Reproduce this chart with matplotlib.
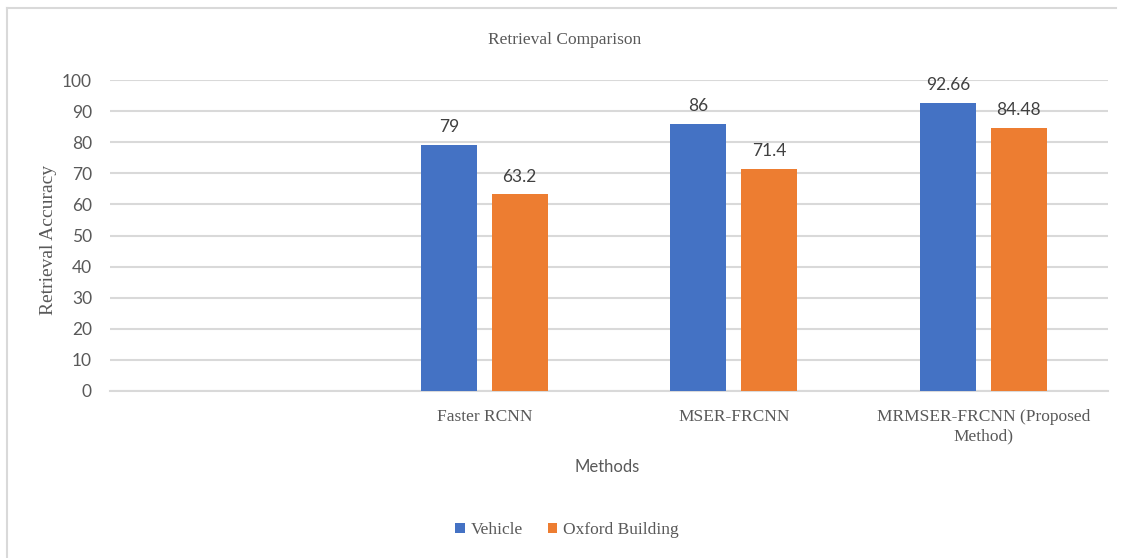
import numpy as np
import matplotlib.pyplot as plt
from matplotlib.lines import Line2D

categories = ["", "Faster RCNN", "MSER-FRCNN", "MRMSER-FRCNN (Proposed\nMethod)"]
series_names = ["Vehicle", "Oxford Building"]
vehicle = [None, 79, 86, 92.66]
oxford = [None, 63.2, 71.4, 84.48]
y_ticks = [0, 10, 20, 30, 40, 50, 60, 70, 80, 90, 100]

colors = ["#4472C4", "#ED7D31"]
text_col = "#595959"
serif = "Liberation Serif"
sans = "Lato"

fig = plt.figure(figsize=(11.23, 5.58), dpi=100)
ax = fig.add_axes([0.098, 0.2993, 0.8886, 0.5573])

x = np.arange(len(categories))
width = 0.224
offset = 0.142
for vals, off, c, name in [(vehicle, -offset, colors[0], series_names[0]),
                           (oxford, offset, colors[1], series_names[1])]:
    xs = [xi + off for xi, v in zip(x, vals) if v is not None]
    vs = [v for v in vals if v is not None]
    bars = ax.bar(xs, vs, width, color=c, label=name, zorder=3)
    for b, v in zip(bars, vs):
        ax.text(b.get_x() + b.get_width() / 2, v + 3.2, f"{v:g}",
                ha="center", va="bottom", fontsize=12.5, family=sans, color="#404040")

ax.set_xlim(-0.5, len(categories) - 0.5)
ax.set_ylim(0, 100)
ax.set_yticks(y_ticks)
ax.set_xticks(x)
ax.set_xticklabels(categories, family=serif, fontsize=12.5, color=text_col, linespacing=1.25)
ax.tick_params(axis="x", length=0, pad=13)
ax.tick_params(axis="y", length=0, pad=13, labelsize=12.5, labelcolor=text_col)
for lab in ax.get_yticklabels():
    lab.set_family(sans)
ax.grid(axis="y", color="#d9d9d9", linewidth=1.5, zorder=0)
for s in ["top", "right", "left"]:
    ax.spines[s].set_visible(False)
ax.spines["bottom"].set_color("#d9d9d9")
ax.spines["bottom"].set_linewidth(1.5)

ax.set_ylabel("Retrieval Accuracy", family=serif, fontsize=14, color=text_col)
ax.yaxis.set_label_coords(-0.053, 0.485)
fig.text(0.541, 0.163, "Methods", ha="center", va="center", family=sans, fontsize=12, color=text_col)
fig.text(0.503, 0.928, "Retrieval Comparison", ha="center", va="center", family=serif,
         fontsize=12.5, color=text_col)

leg = fig.legend(loc="center", bbox_to_anchor=(0.505, 0.05), ncol=2, frameon=False,
                 handlelength=0.55, handleheight=0.55, handletextpad=0.35, columnspacing=1.4,
                 prop={"family": serif, "size": 12.5})
for t in leg.get_texts():
    t.set_color(text_col)

# outer frame of the chart area
fig.add_artist(Line2D([0.0065, 0.0065], [0.0, 0.985], color="#d9d9d9", lw=1.5, transform=fig.transFigure))
fig.add_artist(Line2D([0.0065, 0.994], [0.985, 0.985], color="#d9d9d9", lw=1.5, transform=fig.transFigure))

fig.savefig("out.png", dpi=100, facecolor="white")
